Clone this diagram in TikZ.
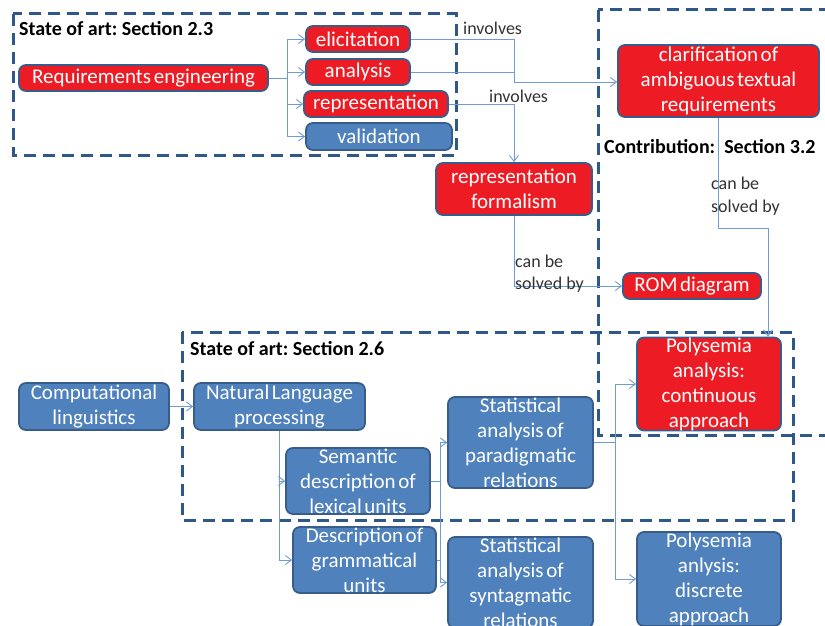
\documentclass[tikz,border=0pt]{standalone}
\usepackage{fontspec}
\setmainfont{Carlito}
\newfontfamily\boxfont{Carlito}[WordSpace=0.55]
\usetikzlibrary{arrows.meta}
\frenchspacing
\definecolor{boxred}{RGB}{237,28,36}
\definecolor{boxblue}{RGB}{79,129,189}
\definecolor{boxline}{RGB}{56,93,138}
\definecolor{linkblue}{RGB}{110,155,210}
\definecolor{framecol}{RGB}{47,88,138}
\definecolor{labelgray}{RGB}{50,50,50}
\begin{document}
\begin{tikzpicture}[x=1pt,y=-1pt,>={Straight Barb[length=6pt,width=9pt]},
	box/.style={draw=boxline,line width=1.8pt,rounded corners=7pt,text=white,align=center,inner sep=0pt,font=\boxfont\fontsize{21}{25}\selectfont},
	redbox/.style={box,fill=boxred},
	bluebox/.style={box,fill=boxblue},
	conn/.style={draw=linkblue,line width=0.9pt},
	frame/.style={draw=framecol,line width=3pt,dash pattern=on 12pt off 7pt},
	ttl/.style={anchor=west,inner sep=0pt,font=\bfseries\fontsize{20}{24}\selectfont},
	lbl/.style={anchor=west,inner sep=0pt,text=labelgray,align=left,font=\fontsize{18}{22.5}\selectfont}]
	\useasboundingbox (0,0) rectangle (825,626);
	\draw[frame] (13,14) rectangle (456,155);
	\draw[frame] (598,10) rectangle (850,435);
	\draw[frame] (182,332) rectangle (793,520);
	\node[ttl] (t1) at (19,29) {State of art: Section 2.3};
	\node[ttl] (t2) at (604,147) {Contribution:\ \ Section 3.2};
	\node[ttl] (t3) at (190,349) {State of art: Section 2.6};
	\node[redbox,minimum width=249pt,minimum height=26pt] (re) at (143.5,78) {Requirements engineering};
	\node[redbox,minimum width=104pt,minimum height=26pt] (eli) at (358,39) {elicitation};
	\node[redbox,minimum width=104pt,minimum height=26pt] (ana) at (358,72) {analysis};
	\node[redbox,minimum width=144pt,minimum height=26pt] (rep) at (376,104) {representation};
	\node[bluebox,minimum width=146pt,minimum height=27pt] (val) at (379,136.5) {validation};
	\node[redbox,minimum width=201pt,minimum height=72pt] (clar) at (718.5,81) {clarification of\\ambiguous textual\\requirements};
	\node[redbox,minimum width=156pt,minimum height=52pt] (form) at (514,189) {representation\\formalism};
	\node[redbox,minimum width=138pt,minimum height=26pt] (rom) at (692,286) {ROM diagram};
	\node[bluebox,minimum width=150pt,minimum height=47pt] (cl) at (94,406.5) {Computational\\linguistics};
	\node[bluebox,minimum width=171pt,minimum height=47pt] (nlp) at (279.5,406.5) {Natural Language\\processing};
	\node[bluebox,minimum width=144pt,minimum height=66pt] (sem) at (358,481) {Semantic\\description of\\lexical units};
	\node[bluebox,minimum width=143pt,minimum height=66pt] (gram) at (364.5,560) {Description of\\grammatical\\units};
	\node[bluebox,minimum width=145pt,minimum height=91pt] (para) at (520.5,442.5) {Statistical\\analysis of\\paradigmatic\\relations};
	\node[bluebox,minimum width=145pt,minimum height=91pt] (synt) at (520.5,582.5) {Statistical\\analysis of\\syntagmatic\\relations};
	\node[redbox,minimum width=144pt,minimum height=92pt] (cont) at (709,384) {Polysemia\\analysis:\\continuous\\approach};
	\node[bluebox,minimum width=144pt,minimum height=94pt] (disc) at (709,579) {Polysemia\\anlysis:\\discrete\\approach};
	\coordinate (rebr) at (287,78);
	\coordinate (inv) at (514,82);
	\coordinate (clbr) at (768,228);
	\coordinate (sbr) at (440,481);
	\coordinate (pbr) at (615,442.5);
	\draw[conn] (re.east) -- (rebr);
	\draw[conn,->] (rebr) |- (eli.west);
	\draw[conn,->] (rebr) |- (ana.west);
	\draw[conn,->] (rebr) |- (rep.west);
	\draw[conn,->] (rebr) |- (val.west);
	\draw[conn,->] (eli.east) -| (inv) -- (inv -| clar.west);
	\draw[conn] (ana.east) -- (ana.east -| inv);
	\node[lbl] (inv1) at (463,28) {involves};
	\draw[conn,->] (rep.east) -| (form.north);
	\node[lbl] (inv2) at (489,96) {involves};
	\draw[conn,->] (form.south) |- (rom.west);
	\node[lbl] (sol1) at (515,273.5) {can be\\solved by};
	\draw[conn,->] (clar.south) |- (clbr) -- (clbr |- cont.north);
	\node[lbl] (sol2) at (711,196) {can be\\solved by};
	\draw[conn,->] (cl.east) -- (cl.east -| nlp.west);
	\draw[conn,->] (nlp.south) |- (sem.west);
	\draw[conn,->] (nlp.south) |- (gram.west);
	\draw[conn] (sem.east) -- (sbr);
	\draw[conn] (gram.east) -- (gram.east -| sbr);
	\draw[conn,->] (sbr) |- (para.west);
	\draw[conn,->] (sbr) |- (synt.west);
	\draw[conn] (para.east) -- (pbr);
	\draw[conn,->] (pbr) |- (cont.west);
	\draw[conn,->] (pbr) |- (disc.west);
\end{tikzpicture}
\end{document}
